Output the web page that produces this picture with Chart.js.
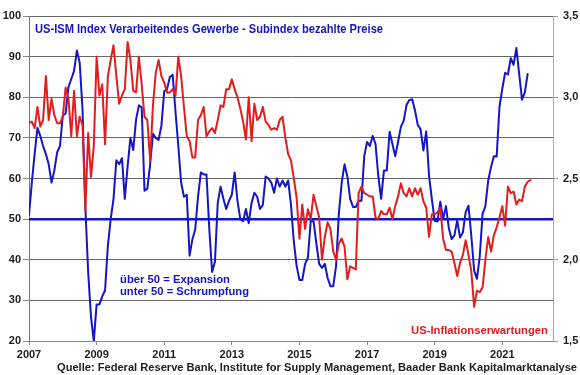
<!DOCTYPE html>
<html>
<head>
<meta charset="utf-8">
<script src="https://cdn.jsdelivr.net/npm/chart.js@4.4.0/dist/chart.umd.min.js"></script>
<style>
  html, body { margin: 0; padding: 0; background: #fff; }
  #wrap { width: 580px; height: 375px; }
</style>
</head>
<body>
<div id="wrap"><canvas id="ismChart" width="580" height="375"></canvas></div>
<script>
// Monatswerte ab Januar 2007
const startYear = 2007;

// ISM Verarbeitendes Gewerbe - Subindex bezahlte Preise (linke Achse)
const ismPrices = [
  51, 59, 66, 72.5, 70.5, 68, 66, 63.5, 59, 62, 66.5, 68,            // 2007
  75.5, 76, 82.5, 84.5, 86.5, 91.5, 88.5, 77, 53, 37, 26, 20,        // 2008
  29, 29, 31, 32.5, 43.5, 50, 55, 64.5, 63.5, 65, 55, 63,            // 2009
  70, 67, 74.5, 78, 77.5, 57, 57.5, 63.5, 71, 70, 69.5, 73,          // 2010
  81.5, 82, 85, 85.5, 76.5, 68, 59, 55.5, 56, 41, 45, 47.5,          // 2011
  55.5, 61.5, 61, 61, 47.5, 37, 39.5, 54, 58, 55, 52.5, 54.5,        // 2012
  56, 61.5, 54.5, 50, 49.5, 52.5, 49, 54, 56.5, 55.5, 52.5, 53.5,    // 2013
  60.5, 60, 59, 56.5, 60, 58, 59.5, 58, 59.5, 53.5, 44.5, 38.5,      // 2014
  35, 35, 39, 40.5, 49.5, 49.5, 44, 39, 38, 39, 35.5, 33.5,          // 2015
  33.5, 38.5, 51.5, 59, 63.5, 60.5, 55, 53, 53, 54.5, 54.5, 65.5,    // 2016
  69, 68, 70.5, 68.5, 60.5, 55, 62, 62, 71.5, 68.5, 65.5, 69,        // 2017
  72.7, 74.2, 78.1, 79.3, 79.5, 76.8, 73.2, 72.1, 66.9, 71.6, 60.7, 54.9, // 2018
  49.6, 49.4, 54.3, 50, 53.2, 47.9, 45.1, 46, 49.7, 45.5, 46.7, 51.7,     // 2019
  53.3, 45.9, 37.4, 35.3, 40.8, 51.3, 53.2, 59.5, 62.8, 65.5, 65.4, 77.6, // 2020
  82.1, 86, 85.6, 89.6, 88, 92.1, 85.7, 79.4, 81.2, 85.7                  // 2021
];

// US-Inflationserwartungen in % (rechte Achse)
const inflationExpectations = [
  2.84, 2.85, 2.81, 2.94, 2.82, 2.86, 3.13, 2.86, 2.99, 2.89, 2.84, 2.84, // 2007
  2.88, 3.06, 2.99, 2.76, 3.04, 2.76, 2.88, 2.83, 2.30, 2.78, 2.51, 2.70, // 2008
  3.25, 3.01, 3.08, 2.71, 3.13, 3.23, 3.32, 3.13, 2.96, 3.01, 3.05, 3.34, // 2009
  3.23, 3.04, 3.03, 3.25, 3.08, 2.88, 2.86, 2.61, 2.95, 3.15, 3.23, 3.13, // 2010
  3.09, 3.03, 3.03, 3.05, 3.01, 3.25, 3.13, 2.94, 2.76, 2.73, 2.63, 2.63, // 2011
  2.86, 2.89, 2.94, 2.76, 2.79, 2.81, 2.78, 2.86, 2.95, 2.94, 3.05, 3.05, // 2012
  3.11, 3.05, 3.00, 2.93, 2.85, 2.74, 3.00, 2.73, 2.96, 2.86, 2.88, 2.94, // 2013
  2.85, 2.83, 2.80, 2.81, 2.80, 2.86, 2.88, 2.75, 2.65, 2.61, 2.50, 2.38, // 2014
  2.13, 2.34, 2.19, 2.31, 2.25, 2.40, 2.33, 2.26, 2.00, 2.14, 2.23, 2.19, // 2015
  2.05, 2.00, 2.10, 2.13, 2.08, 1.88, 1.96, 1.95, 1.94, 2.41, 2.45, 2.41, // 2016
  2.40, 2.39, 2.39, 2.26, 2.25, 2.30, 2.28, 2.28, 2.32, 2.25, 2.33, 2.39, // 2017
  2.47, 2.41, 2.39, 2.44, 2.39, 2.44, 2.40, 2.44, 2.36, 2.32, 2.14, 2.28, // 2018
  2.28, 2.29, 2.32, 2.13, 2.06, 2.06, 2.05, 1.98, 1.90, 1.98, 2.03, 2.12, // 2019
  2.03, 1.93, 1.71, 1.81, 1.80, 1.83, 2.00, 2.14, 2.05, 2.15, 2.20, 2.26, // 2020
  2.33, 2.21, 2.45, 2.41, 2.42, 2.34, 2.37, 2.36, 2.45, 2.48, 2.49        // 2021
];

// Achsen
const yearTicks = [2007, 2009, 2011, 2013, 2015, 2017, 2019, 2021];
const xRange = [2007, 2022.5];
const leftRange = [20, 100];
const rightRange = [1.5, 3.5];
const thresholdValue = 50;

// Texte
const titleText = 'US-ISM Index Verarbeitendes Gewerbe - Subindex bezahlte Preise';
const noteLines = ['über 50 = Expansion', 'unter 50 = Schrumpfung'];
const inflationLabel = 'US-Inflationserwartungen';
const sourceText = 'Quelle: Federal Reserve Bank, Institute for Supply Management, Baader Bank Kapitalmarktanalyse';

const BLUE = '#1414c8';
const RED = '#e41c1c';
const FONT = '"Liberation Sans", Arial, sans-serif';

const toPoints = arr => arr.map((v, i) => ({ x: startYear + i / 12, y: v }));

// Text in fester Breite zeichnen (wie im Original etwas schmal)
function drawText(ctx, text, x, y, width, color, size) {
  ctx.save();
  ctx.font = 'bold ' + size + 'px ' + FONT;
  const w = ctx.measureText(text).width;
  ctx.translate(x, y);
  ctx.scale(width / w, 1);
  ctx.fillStyle = color;
  ctx.textBaseline = 'alphabetic';
  ctx.textAlign = 'left';
  ctx.fillText(text, 0, 0);
  ctx.restore();
}

const textPlugin = {
  id: 'chartTexts',
  afterDraw(chart) {
    const ctx = chart.ctx;
    drawText(ctx, titleText, 35, 33, 348, BLUE, 12);
    drawText(ctx, noteLines[0], 120, 283, 110, BLUE, 11);
    drawText(ctx, noteLines[1], 120, 295, 129, BLUE, 11);
    drawText(ctx, inflationLabel, 411, 334, 137, RED, 11.5);
    drawText(ctx, sourceText, 57, 371, 520, '#1e1e1e', 11);
  }
};

const tickFont = { family: FONT, size: 11, weight: 'bold' };

const chart = new Chart(document.getElementById('ismChart').getContext('2d'), {
  type: 'line',
  data: {
    datasets: [
      {
        label: inflationLabel,
        data: toPoints(inflationExpectations),
        yAxisID: 'y2',
        borderColor: RED,
        borderWidth: 2,
        pointRadius: 0,
        tension: 0,
        borderJoinStyle: 'round',
        borderCapStyle: 'round',
        order: 0
      },
      {
        label: 'ISM bezahlte Preise',
        data: toPoints(ismPrices),
        yAxisID: 'y',
        borderColor: BLUE,
        borderWidth: 2,
        pointRadius: 0,
        tension: 0,
        borderJoinStyle: 'round',
        borderCapStyle: 'round',
        order: 1
      },
      {
        label: 'Schwelle 50',
        data: xRange.map(x => ({ x: x, y: thresholdValue })),
        yAxisID: 'y',
        borderColor: BLUE,
        borderWidth: 2.5,
        pointRadius: 0,
        order: 2
      }
    ]
  },
  options: {
    responsive: false,
    animation: false,
    devicePixelRatio: 1,
    layout: { padding: { top: 16, left: 0, right: 0, bottom: 0 } },
    plugins: {
      legend: { display: false },
      tooltip: { enabled: false },
      title: { display: false }
    },
    scales: {
      x: {
        type: 'linear',
        min: xRange[0],
        max: xRange[1],
        afterBuildTicks: scale => { scale.ticks = yearTicks.map(v => ({ value: v })); },
        afterFit: scale => { scale.height = 34; },
        ticks: {
          font: tickFont,
          color: '#1e1e1e',
          padding: 3,
          maxRotation: 0,
          autoSkip: false,
          callback: v => String(v)
        },
        grid: { drawOnChartArea: false, drawTicks: true, tickLength: 4, color: '#888' },
        border: { display: true, color: '#888' }
      },
      y: {
        position: 'left',
        min: leftRange[0],
        max: leftRange[1],
        afterFit: scale => { scale.width = 29; },
        ticks: { stepSize: 10, font: tickFont, color: '#1e1e1e', padding: 2 },
        grid: { color: '#666', lineWidth: 1, tickLength: 6, tickColor: '#888' },
        border: { display: true, color: '#777' }
      },
      y2: {
        position: 'right',
        min: rightRange[0],
        max: rightRange[1],
        afterFit: scale => { scale.width = 27; },
        ticks: {
          stepSize: 0.5,
          font: tickFont,
          color: '#1e1e1e',
          padding: 5,
          callback: v => v.toFixed(1).replace('.', ',')
        },
        grid: { drawOnChartArea: false, tickLength: 5, color: '#999' },
        border: { display: true, color: '#aaa' }
      }
    }
  },
  plugins: [textPlugin]
});
</script>
</body>
</html>
